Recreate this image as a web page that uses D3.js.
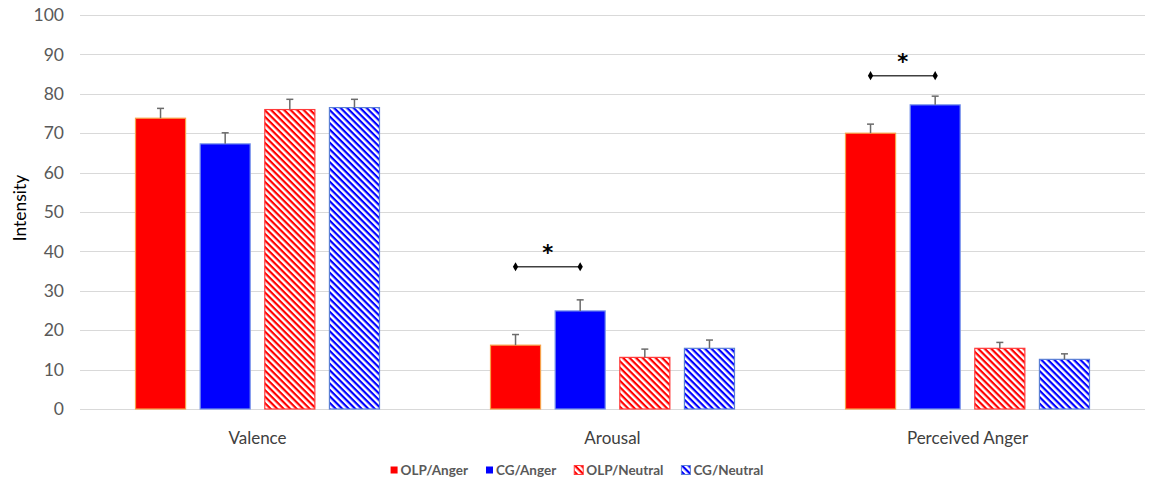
<!DOCTYPE html>
<html><head><meta charset="utf-8">
<script src="https://cdn.jsdelivr.net/npm/d3@7"></script>
<style>body{margin:0;background:#fff}svg{display:block}</style>
</head><body>
<svg id="c" width="1153" height="481"></svg>
<script>
const categories = ["Valence", "Arousal", "Perceived Anger"];
const seriesNames = ["OLP/Anger", "CG/Anger", "OLP/Neutral", "CG/Neutral"];
const means = {
  "OLP/Anger":   [73.8, 16.2, 70.0],
  "CG/Anger":    [67.3, 24.9, 77.2],
  "OLP/Neutral": [76.0, 13.1, 15.4],
  "CG/Neutral":  [76.5, 15.4, 12.6]
};
const errors = {
  "OLP/Anger":   [2.5, 2.7, 2.3],
  "CG/Anger":    [2.8, 2.8, 2.2],
  "OLP/Neutral": [2.6, 2.1, 1.5],
  "CG/Neutral":  [2.1, 2.1, 1.4]
};
const yTicks = [0, 10, 20, 30, 40, 50, 60, 70, 80, 90, 100];
const sigPairs = [
  {category: "Arousal", from: "OLP/Anger", to: "CG/Anger", level: 36.1, label: "*"},
  {category: "Perceived Anger", from: "OLP/Anger", to: "CG/Anger", level: 84.6, label: "*"}
];
const styles = {
  "OLP/Anger":   {color: "#ff0000", stroke: "#f7a04a", hatch: false},
  "CG/Anger":    {color: "#0000ff", stroke: "#7b96ea", hatch: false},
  "OLP/Neutral": {color: "#ff0000", stroke: "#ff3b3b", hatch: true},
  "CG/Neutral":  {color: "#0000ff", stroke: "#5a7fd6", hatch: true}
};

const svg = d3.select("#c");
const font = "Lato, 'Open Sans', sans-serif";
const mLeft = 80, mRight = 1145, mTop = 15, mBottom = 409;

const defs = svg.append("defs");
seriesNames.forEach((s, i) => {
  if (!styles[s].hatch) return;
  const p = defs.append("pattern").attr("id", "hatch" + i)
    .attr("patternUnits", "userSpaceOnUse").attr("width", 4.6).attr("height", 4.6)
    .attr("patternTransform", "rotate(45)");
  p.append("rect").attr("width", 4.6).attr("height", 4.6).attr("fill", "#fff");
  p.append("rect").attr("width", 4.6).attr("height", 2.2).attr("fill", styles[s].color);
});
const fillOf = s => styles[s].hatch ? `url(#hatch${seriesNames.indexOf(s)})` : styles[s].color;

const y = d3.scaleLinear().domain([0, 100]).range([mBottom, mTop]);
const x0 = d3.scaleBand().domain(categories).range([mLeft, mRight]).padding(0);
const x1 = d3.scaleBand().domain(seriesNames).range([-122.5, 122.5]).paddingInner(0.21).paddingOuter(0);

// gridlines
svg.append("g").selectAll("line").data(yTicks).join("line")
  .attr("x1", mLeft).attr("x2", mRight)
  .attr("y1", d => Math.round(y(d)) + 0.5).attr("y2", d => Math.round(y(d)) + 0.5)
  .attr("stroke", "#d9d9d9").attr("stroke-width", 1);

// y axis labels
const yAxis = d3.axisLeft(y).tickValues(yTicks).tickSize(0).tickPadding(0);
const ga = svg.append("g").attr("transform", `translate(${mLeft - 16},0)`).call(yAxis);
ga.select(".domain").remove();
ga.selectAll("text").attr("font-family", font).attr("font-size", 17.5).attr("fill", "#595959");

svg.append("text").attr("transform", `translate(26,${(mTop + mBottom) / 2 - 4}) rotate(-90)`)
  .attr("text-anchor", "middle").attr("font-family", font).attr("font-size", 17.5)
  .attr("fill", "#000").text("Intensity");

// bars
const rows = [];
categories.forEach((c, ci) => seriesNames.forEach(s => rows.push({c, s, v: means[s][ci], e: errors[s][ci]})));
const bx = d => x0(d.c) + x0.bandwidth() / 2 + x1(d.s);

svg.append("g").selectAll("rect").data(rows).join("rect")
  .attr("x", d => bx(d) + 0.5).attr("y", d => y(d.v))
  .attr("width", x1.bandwidth() - 1).attr("height", d => y(0) - y(d.v))
  .attr("fill", d => fillOf(d.s)).attr("stroke", d => styles[d.s].stroke).attr("stroke-width", 1.2);

// error bars
const eb = svg.append("g").attr("stroke", "#6b6b6b").attr("stroke-width", 1.5);
rows.forEach(d => {
  const cx = bx(d) + x1.bandwidth() / 2;
  eb.append("line").attr("x1", cx).attr("x2", cx).attr("y1", y(d.v)).attr("y2", y(d.v + d.e));
  eb.append("line").attr("x1", cx - 3.5).attr("x2", cx + 3.5).attr("y1", y(d.v + d.e)).attr("y2", y(d.v + d.e));
});

// category labels
svg.append("g").selectAll("text").data(categories).join("text")
  .attr("x", c => x0(c) + x0.bandwidth() / 2).attr("y", 444)
  .attr("text-anchor", "middle").attr("font-family", font).attr("font-size", 17)
  .attr("fill", "#404040").text(c => c);

// significance
sigPairs.forEach(p => {
  const xa = x0(p.category) + x0.bandwidth() / 2 + x1(p.from) + x1.bandwidth() / 2;
  const xb = x0(p.category) + x0.bandwidth() / 2 + x1(p.to) + x1.bandwidth() / 2;
  const yy = y(p.level);
  const g = svg.append("g");
  g.append("line").attr("x1", xa).attr("x2", xb).attr("y1", yy).attr("y2", yy)
    .attr("stroke", "#404040").attr("stroke-width", 1.5);
  [xa, xb].forEach(xx => g.append("path")
    .attr("d", d3.symbol(d3.symbolDiamond, 24)()).attr("transform", `translate(${xx},${yy})`)
    .attr("fill", "#000"));
  g.append("text").attr("x", (xa + xb) / 2).attr("y", yy - 7)
    .attr("text-anchor", "middle").attr("font-family", "'DejaVu Sans', sans-serif").attr("font-size", 21)
    .attr("font-weight", "bold").attr("fill", "#000").text(p.label);
});

// legend
const lg = svg.append("g");
const gap = 18;
let cur = 0;
seriesNames.forEach((s, i) => {
  const g = lg.append("g");
  const sz = styles[s].hatch ? 9 : 7;
  g.append("rect").attr("x", 0).attr("y", styles[s].hatch ? -4.5 : -3.5).attr("width", sz).attr("height", sz)
    .attr("fill", fillOf(s)).attr("stroke", styles[s].hatch ? styles[s].stroke : "none");
  const t = g.append("text").attr("x", sz + 3).attr("y", 4.5).attr("font-family", font)
    .attr("font-size", 13.5).attr("font-weight", "bold").attr("fill", "#595959").text(s);
  const w = sz + 3 + t.node().getComputedTextLength();
  g.attr("transform", `translate(${cur},470)`);
  cur += w + gap;
});
const total = cur - gap;
lg.attr("transform", `translate(${577 - total / 2},0)`);
</script>
</body></html>
